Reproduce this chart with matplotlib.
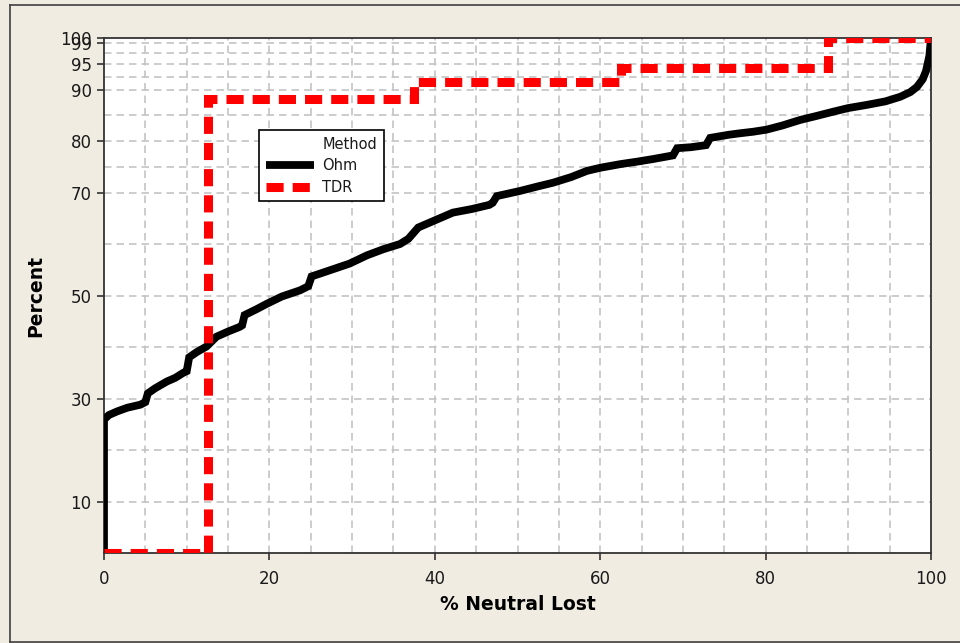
import matplotlib
matplotlib.use("Agg")
import matplotlib.pyplot as plt
from matplotlib.lines import Line2D

# ---- data ----
ohm_x = [0, 0, 0.6, 1.6, 2.8, 4.4, 5.0, 5.3, 6.2, 7.6, 8.6, 9.6, 10.0, 10.3, 11.2,
         12.4, 13.6, 15.0, 16.4, 16.7, 17.0, 18.4, 19.7, 21.5, 23.7, 24.7, 25.1,
         27.5, 29.7, 31.8, 33.8, 35.8, 36.8, 38.0, 40.6, 42.2, 44.5, 46.6, 47.0,
         47.5, 50.3, 52.5, 54.3, 56.5, 58.4, 60.0, 62.4, 64.5, 66.4, 68.8, 69.3,
         71.0, 72.8, 73.3, 75.5, 76.9, 78.5, 80.1, 82.0, 84.2, 86.0, 88.2, 90.0,
         92.2, 94.5, 96.3, 97.5, 98.3, 99.0, 99.4, 99.8, 100]
ohm_pct = [0, 25.9, 26.8, 27.5, 28.2, 28.8, 29.3, 31.0, 32.0, 33.3, 34.0, 35.0,
           35.3, 38.0, 39.0, 40.1, 42.0, 43.0, 43.9, 44.2, 46.2, 47.3, 48.4, 49.8,
           51.0, 51.8, 53.7, 55.0, 56.2, 57.8, 59.0, 60.0, 61.0, 63.2, 65.0, 66.1,
           66.8, 67.6, 68.0, 69.3, 70.3, 71.2, 71.9, 73.0, 74.2, 74.8, 75.5, 76.0,
           76.5, 77.2, 78.6, 78.8, 79.2, 80.6, 81.2, 81.5, 81.8, 82.2, 83.0, 84.1,
           84.8, 85.7, 86.4, 87.0, 87.7, 88.6, 89.5, 90.5, 92.0, 93.6, 96.5, 100]

tdr_x = [0, 12.6, 37.5, 62.5, 87.5, 100]
tdr_pct = [0, 88.2, 91.4, 94.1, 100, 100]

series_names = ["Ohm", "TDR"]
legend_title = "Method"
x_label = "% Neutral Lost"
y_label = "Percent"
x_ticks = [0, 20, 40, 60, 80, 100]
y_ticks = [10, 30, 50, 70, 80, 90, 95, 99, 100]
x_grid = [5, 10, 15, 20, 25, 30, 35, 40, 45, 50, 55, 60, 65, 70, 75, 80, 85, 90, 95]
y_grid = [10, 20, 30, 40, 50, 60, 70, 75, 80, 85, 90, 92.5, 95, 97, 99]

# ---- style ----
BG = "#F0ECE2"
plt.rcParams["font.family"] = ["DejaVu Sans"]

fig = plt.figure(figsize=(9.6, 6.43), dpi=100, facecolor=BG)
ax = fig.add_axes([104/960, 1-553/643, 827/960, 515/643])
ax.set_facecolor("white")

# figure border (left/top/bottom)
border_kw = dict(color="#404040", lw=1.2, transform=fig.transFigure)
fig.add_artist(Line2D([10/960, 10/960], [1-5/643, 1-641.5/643], **border_kw))
fig.add_artist(Line2D([10/960, 1.0], [1-5/643, 1-5/643], **border_kw))
fig.add_artist(Line2D([10/960, 1.0], [1-641.5/643, 1-641.5/643], **border_kw))

ax.set_xlim(0, 100)
ax.set_ylim(0, 100)

# grid
for gx in x_grid:
    ax.axvline(gx, color="#C4C4C4", lw=1.2, ls=(0, (4.5, 3.0)), zorder=0.5)
for gy in y_grid:
    ax.axhline(gy, color="#C4C4C4", lw=1.2, ls=(0, (4.5, 3.0)), zorder=0.5)

ax.plot(ohm_x, ohm_pct, color="black", lw=5.6,
        solid_joinstyle="miter", solid_capstyle="butt", zorder=3, label=series_names[0])
ax.plot(tdr_x, tdr_pct, drawstyle="steps-post", color="#FF0000", lw=6.5,
        ls=(0, (1.9, 1.0)), dash_capstyle="butt", dash_joinstyle="miter",
        zorder=4, label=series_names[1])

ax.set_xticks(x_ticks)
ax.set_yticks(y_ticks)
ax.set_yticklabels([str(v) for v in y_ticks])
ax.tick_params(axis="both", direction="out", length=5, width=1.2, color="#333333",
               labelsize=12, labelcolor="#1a1a1a")
ax.tick_params(axis="x", pad=7.5)
ax.tick_params(axis="y", pad=4)
for s in ax.spines.values():
    s.set_color("#333333")
    s.set_linewidth(1.3)

ax.set_xlabel(x_label, fontsize=13.5, fontweight="bold", labelpad=5)
ax.set_ylabel(y_label, fontsize=13.5, fontweight="bold", labelpad=10.5)

blank = Line2D([], [], color="none")
h_ohm = Line2D([], [], color="black", lw=5.6, solid_capstyle="butt")
h_tdr = Line2D([], [], color="#FF0000", lw=6.5, ls=(0, (1.9, 1.0)), dash_capstyle="butt")
leg = ax.legend([blank, h_ohm, h_tdr], [legend_title] + series_names,
                loc="upper left", bbox_to_anchor=(0.1874, 0.821), borderaxespad=0,
                fontsize=10.5, handlelength=3.3, handletextpad=0.6, labelspacing=0.45,
                borderpad=0.45, fancybox=False, shadow=False, framealpha=1,
                edgecolor="black")
leg.get_frame().set_linewidth(1.2)
for t in leg.get_texts():
    t.set_color("#1a1a1a")

fig.savefig("out.png", dpi=100, facecolor=BG)
